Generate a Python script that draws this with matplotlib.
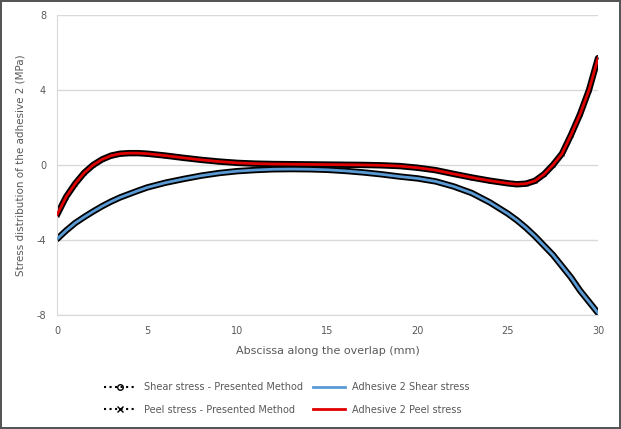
import matplotlib
matplotlib.use("Agg")
import matplotlib.pyplot as plt
from matplotlib.lines import Line2D

plt.rcParams["axes.unicode_minus"] = False

# abscissa along the overlap (mm)
x = [0, 0.5, 1, 1.5, 2, 2.5, 3, 3.5, 4, 4.5, 5, 6, 7, 8, 9, 10, 11, 12, 13, 14,
     15, 16, 17, 18, 19, 20, 21, 22, 23, 24, 25, 25.5, 26, 26.5, 27, 27.5, 28,
     28.5, 29, 29.5, 30]

# presented method (dense markers in the original)
shear_pm = [-3.95, -3.5, -3.1, -2.78, -2.48, -2.2, -1.95, -1.73, -1.55, -1.37,
            -1.2, -0.95, -0.75, -0.57, -0.43, -0.33, -0.27, -0.23, -0.22, -0.23,
            -0.26, -0.32, -0.4, -0.5, -0.62, -0.72, -0.88, -1.15, -1.5, -2.0,
            -2.6, -2.95, -3.35, -3.8, -4.3, -4.8, -5.4, -6.0, -6.7, -7.3, -7.9]
peel_pm = [-2.65, -1.7, -1.0, -0.42, 0.0, 0.3, 0.5, 0.6, 0.63, 0.63,
           0.6, 0.5, 0.38, 0.27, 0.18, 0.11, 0.07, 0.05, 0.04, 0.03,
           0.02, 0.01, 0.0, -0.02, -0.06, -0.15, -0.28, -0.48, -0.67, -0.84,
           -0.98, -1.03, -1.0, -0.85, -0.5, 0.0, 0.6, 1.6, 2.7, 4.0, 5.7]

# finite element results, adhesive 2 (same as above within reading accuracy)
shear_fe = list(shear_pm)
peel_fe = list(peel_pm)

gray = "#595959"
blue = "#5b9bd5"
red = "#e00000"

fig = plt.figure(figsize=(6.21, 4.29), dpi=100)
fig.patch.set_edgecolor("#555555")
fig.patch.set_linewidth(1.5)
ax = fig.add_axes([0.092, 0.266, 0.871, 0.699])

# black bands made of the dense markers of the presented method
ax.plot(x, shear_pm, color="k", lw=4.6, solid_capstyle="round", zorder=2)
ax.plot(x, peel_pm, color="k", lw=4.6, solid_capstyle="round", zorder=2)
ax.plot(x, peel_pm, ls="none", marker="x", ms=3.5, mew=0.8, color="#555555", zorder=1)

ax.plot(x, shear_fe, color=blue, lw=2.0, zorder=3)
ax.plot(x, peel_fe, color=red, lw=2.0, zorder=3)

ax.set_xlim(0, 30)
ax.set_ylim(-8, 8)
ax.set_xticks([0, 5, 10, 15, 20, 25, 30])
ax.set_yticks([-8, -4, 0, 4, 8])
ax.grid(axis="y", color="#d9d9d9", lw=1)
ax.set_axisbelow(True)
for s in ["top", "right"]:
    ax.spines[s].set_visible(False)
for s in ["left", "bottom"]:
    ax.spines[s].set_color("#d9d9d9")
ax.tick_params(length=0, labelsize=7, labelcolor=gray, pad=8)

ax.set_xlabel("Abscissa along the overlap (mm)", fontsize=8, color=gray, labelpad=7)
ax.set_ylabel("Stress distribution of the adhesive 2 (MPa)", fontsize=7.5,
              color=gray, labelpad=8)

handles = [
    Line2D([], [], color="k", ls=":", lw=1.5, marker="o", ms=4, mfc="none"),
    Line2D([], [], color="k", ls=":", lw=1.5, marker="x", ms=4),
    Line2D([], [], color=blue, lw=2),
    Line2D([], [], color=red, lw=2),
]
labels = ["Shear stress - Presented Method", "Peel stress - Presented Method",
          "Adhesive 2 Shear stress", "Adhesive 2 Peel stress"]
leg = fig.legend(handles, labels, ncol=2, loc="center", bbox_to_anchor=(0.462, 0.071),
                 frameon=False, fontsize=7, handlelength=3.3, columnspacing=1.0,
                 labelspacing=1.3)
for t in leg.get_texts():
    t.set_color(gray)

fig.savefig("out.png", dpi=100, edgecolor=fig.get_edgecolor())
